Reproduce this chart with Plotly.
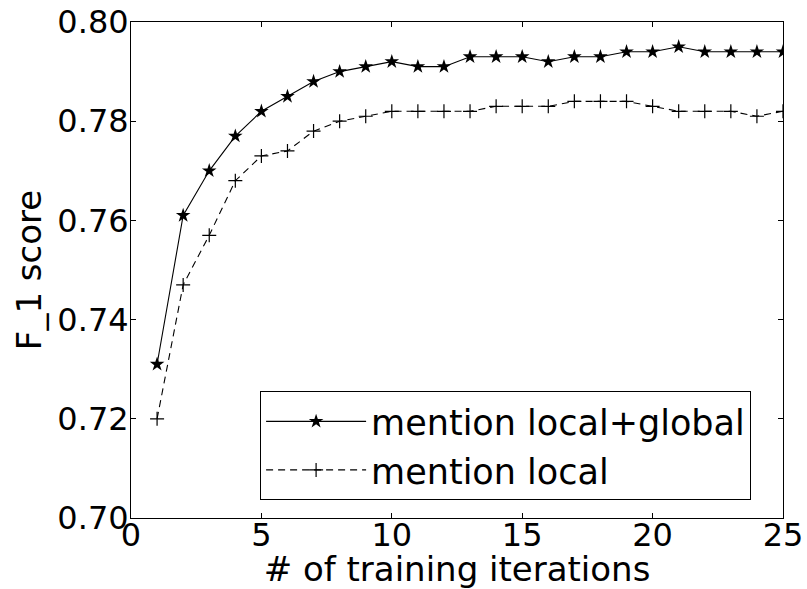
import plotly.graph_objects as go

iterations = list(range(1, 26))
local_global = [0.731, 0.761, 0.770, 0.777, 0.782, 0.785, 0.788, 0.790, 0.791, 0.792,
                0.791, 0.791, 0.793, 0.793, 0.793, 0.792, 0.793, 0.793, 0.794, 0.794,
                0.795, 0.794, 0.794, 0.794, 0.794]
local_only = [0.720, 0.747, 0.757, 0.768, 0.773, 0.774, 0.778, 0.780, 0.781, 0.782,
              0.782, 0.782, 0.782, 0.783, 0.783, 0.783, 0.784, 0.784, 0.784, 0.783,
              0.782, 0.782, 0.782, 0.781, 0.782]
series_names = ["mention local+global", "mention local"]
x_ticks = [0, 5, 10, 15, 20, 25]
y_ticks = [0.70, 0.72, 0.74, 0.76, 0.78, 0.80]

FONT = "DejaVu Sans"

fig = go.Figure()
fig.add_trace(go.Scatter(
    x=iterations, y=local_global, name=series_names[0], mode="lines+markers",
    line=dict(color="black", width=1.1),
    marker=dict(symbol="star", size=11, color="black"),
    legendgroup="a",
))
fig.add_trace(go.Scatter(
    x=iterations, y=local_only, name=series_names[1], mode="lines+markers",
    line=dict(color="black", width=1.1, dash="7px,5px"),
    marker=dict(symbol="cross-thin", size=10, color="black",
                line=dict(color="black", width=1.2)),
    legendgroup="b",
))

axis_common = dict(
    showline=True, linecolor="black", linewidth=1, mirror="ticks",
    ticks="inside", ticklen=5, tickcolor="black", showgrid=False, zeroline=False,
    tickfont=dict(family=FONT, size=32, color="black"), automargin=False,
)

fig.update_layout(
    width=807, height=589,
    margin=dict(l=131, r=24, t=22, b=71),
    paper_bgcolor="white", plot_bgcolor="white",
    font=dict(family=FONT, color="black"),
    xaxis=dict(range=[0, 25], tickvals=x_ticks, ticktext=[str(v) for v in x_ticks],
               ticklabelstandoff=-11,
               title=dict(text="# of training iterations", font=dict(family=FONT, size=34),
                          standoff=6),
               **axis_common),
    yaxis=dict(range=[0.70, 0.80], tickvals=y_ticks,
               ticktext=[f"{v:.2f}" for v in y_ticks],
               ticklabelstandoff=-5,
               title=dict(text="F_1 score", font=dict(family=FONT, size=34), standoff=5),
               **axis_common),
    legend=dict(
        x=0.198, y=0.036, xanchor="left", yanchor="bottom",
        bgcolor="white", bordercolor="black", borderwidth=1,
        font=dict(family=FONT, size=35, color="black"),
        traceorder="grouped", tracegroupgap=0, itemwidth=100,
    ),
    showlegend=True,
)

fig.write_html("out.html", config={"displayModeBar": False},
               post_script="document.body.style.margin='0';")
